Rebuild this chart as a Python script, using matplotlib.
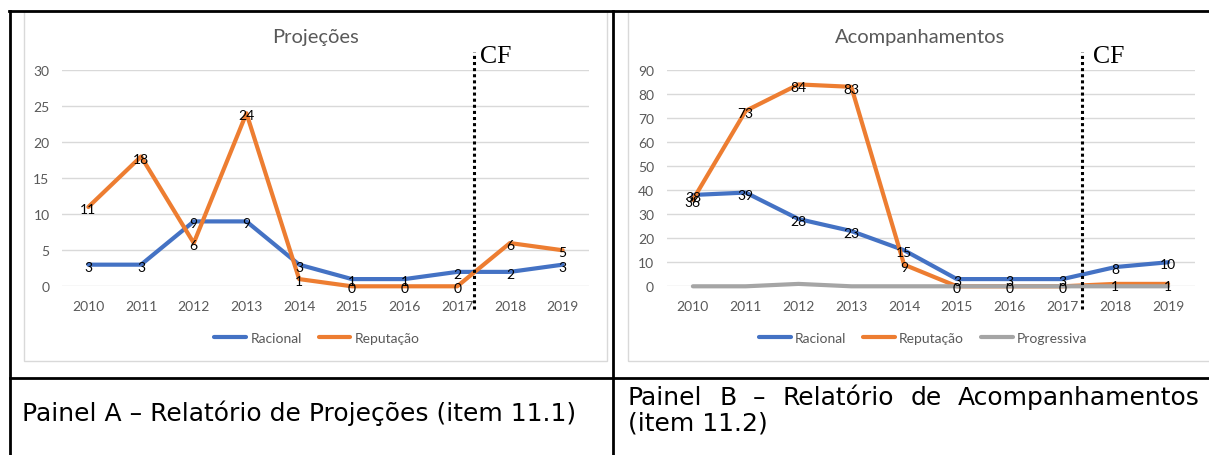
import matplotlib
matplotlib.use('Agg')
import matplotlib.pyplot as plt
from matplotlib.lines import Line2D
from matplotlib.patches import Rectangle

# dados
anos = ['2010', '2011', '2012', '2013', '2014', '2015', '2016', '2017', '2018', '2019']

proj_racional = [3, 3, 9, 9, 3, 1, 1, 2, 2, 3]
proj_reputacao = [11, 18, 6, 24, 1, 0, 0, 0, 6, 5]

acomp_racional = [38, 39, 28, 23, 15, 3, 3, 3, 8, 10]
acomp_reputacao = [36, 73, 84, 83, 9, 0, 0, 0, 1, 1]
acomp_progressiva = [0, 0, 1, 0, 0, 0, 0, 0, 0, 0]

cf_proj = 7.31
cf_acomp = 7.37

AZUL = '#4472C4'
LARANJA = '#ED7D31'
CINZA = '#A5A5A5'
TXT = '#595959'
GRADE = '#D9D9D9'

W, H = 1209, 456
plt.rcParams['font.family'] = ['Lato', 'DejaVu Sans']

fig = plt.figure(figsize=(W / 100, H / 100), dpi=100)


def fx(px):
    return px / W


def fy(py):
    return 1 - py / H


# caixas dos gráficos (borda cinza clara)
for x0, x1 in [(24, 607), (628, 1215)]:
    fig.patches.append(Rectangle((fx(x0), fy(362)), fx(x1 - x0), (362 - 12) / H,
                                 transform=fig.transFigure, fill=False,
                                 edgecolor=GRADE, lw=1))


def painel(left, right, titulo, tit_cx, ymax, passo, series, cf_x, cf_px, leg_cx):
    ax = fig.add_axes([fx(left), fy(287.3), fx(right - left), (287.3 - 71) / H])
    x = list(range(len(anos)))
    for nome, vals, cor, rot in series:
        ax.plot(x, vals, color=cor, lw=3, label=nome, solid_capstyle='round',
                clip_on=False)
        if rot:
            for i, v in zip(x, vals):
                ax.annotate(str(v), (i, v), xytext=(0, -1.5), textcoords='offset points',
                            ha='center', va='center', fontsize=10, color='black')
    ax.set_xlim(-0.5, len(anos) - 0.5)
    ax.set_ylim(0, ymax)
    ax.set_yticks(range(0, ymax + 1, passo))
    ax.set_xticks(x)
    ax.set_xticklabels(anos)
    ax.tick_params(length=0, colors=TXT, labelsize=10)
    ax.tick_params(axis='y', pad=9)
    ax.tick_params(axis='x', pad=10)
    ax.grid(axis='y', color=GRADE, lw=1)
    ax.set_axisbelow(True)
    for s in ax.spines.values():
        s.set_visible(False)
    ax.patch.set_alpha(0)

    # linha pontilhada CF
    ax.plot([cf_x, cf_x], [-0.105, 1.085], transform=ax.get_xaxis_transform(),
            color='black', ls=(0, (1, 1)), lw=2.2, clip_on=False)
    fig.text(fx(cf_px), fy(57), 'CF', family='Liberation Serif', fontsize=18.5,
             ha='left', va='center', color='black')

    fig.text(fx(tit_cx), fy(38), titulo, ha='center', va='center',
             fontsize=14.5, color=TXT)
    fig.legend(*ax.get_legend_handles_labels(), loc='center',
               bbox_to_anchor=(fx(leg_cx), fy(339)), bbox_transform=fig.transFigure,
               ncol=len(series), frameon=False, fontsize=10, labelcolor=TXT,
               handlelength=2.3, handletextpad=0.3, columnspacing=1.2)
    return ax


painel(62, 589, 'Projeções', 315, 30, 5,
       [('Racional', proj_racional, AZUL, True),
        ('Reputação', proj_reputacao, LARANJA, True)],
       cf_proj, 480, 317)

painel(666.5, 1194.5, 'Acompanhamentos', 920, 90, 10,
       [('Racional', acomp_racional, AZUL, True),
        ('Reputação', acomp_reputacao, LARANJA, True),
        ('Progressiva', acomp_progressiva, CINZA, False)],
       cf_acomp, 1093, 923)

# linhas da tabela
for xs, ys in [([9, W], [12, 12]), ([10, 10], [12, H]), ([613, 613], [12, H]),
               ([10, W], [379, 379])]:
    fig.add_artist(Line2D([fx(v) for v in xs], [fy(v) for v in ys],
                          transform=fig.transFigure, color='black', lw=2))

# legendas dos painéis
FS = 18
fig.text(fx(22), fy(413), 'Painel A – Relatório de Projeções (item 11.1)',
         family='DejaVu Sans', fontsize=FS, va='center', ha='left', color='black')

# linha 1 do painel B justificada
palavras = ['Painel', 'B', '–', 'Relatório', 'de', 'Acompanhamentos']
fig.canvas.draw()
r = fig.canvas.get_renderer()
txts = [fig.text(0, fy(398), p, family='DejaVu Sans', fontsize=FS, va='center',
                 ha='left', color='black') for p in palavras]
larg = [t.get_window_extent(r).width for t in txts]
x0, x1 = 628, 1200
gap = (x1 - x0 - sum(larg)) / (len(palavras) - 1)
pos = x0
for t, w in zip(txts, larg):
    t.set_x(fx(pos))
    pos += w + gap
fig.text(fx(628), fy(423), '(item 11.2)', family='DejaVu Sans', fontsize=FS,
         va='center', ha='left', color='black')

fig.savefig('out.png', dpi=100)
